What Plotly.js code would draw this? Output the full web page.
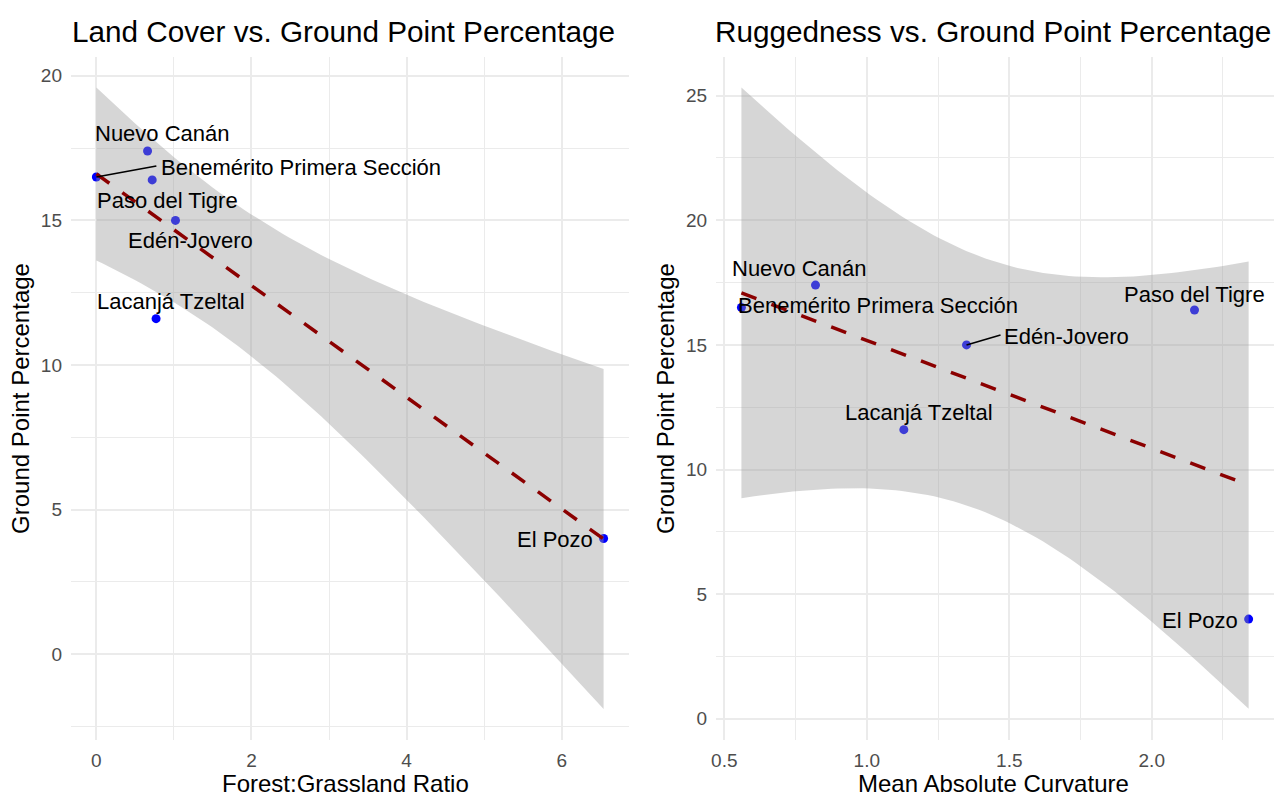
<!DOCTYPE html>
<html>
<head>
<meta charset="utf-8">
<script src="https://cdn.plot.ly/plotly-3.0.1.min.js"></script>
<style>html,body{margin:0;padding:0;background:#fff;}#chart{width:1278px;height:796px;}</style>
</head>
<body>
<div id="chart"></div>
<script>
// ---- data ----
const sites = ["Nuevo Canán", "Benemérito Primera Sección", "Paso del Tigre", "Edén-Jovero", "Lacanjá Tzeltal", "El Pozo"];
const groundPct = [17.4, 16.5, 16.4, 15.0, 11.6, 4.0];
const forestGrassRatio = [0.66, 0.0, 0.72, 1.02, 0.77, 6.54];
const meanAbsCurvature = [0.82, 0.56, 2.15, 1.35, 1.13, 2.34];
const leftTitle = "Land Cover vs. Ground Point Percentage";
const rightTitle = "Ruggedness vs. Ground Point Percentage";
const leftXLabel = "Forest:Grassland Ratio";
const rightXLabel = "Mean Absolute Curvature";
const yLabel = "Ground Point Percentage";
const T_CRIT = 2.776445; // t(0.975, df = 4) for the 95% band of a linear fit on 6 points

// ---- linear model with 95% confidence band (as geom_smooth(method = "lm")) ----
function lmBand(xs, ys, nGrid) {
  const n = xs.length;
  const mx = xs.reduce((a, b) => a + b, 0) / n;
  const my = ys.reduce((a, b) => a + b, 0) / n;
  let sxx = 0, sxy = 0;
  for (let i = 0; i < n; i++) { sxx += (xs[i] - mx) ** 2; sxy += (xs[i] - mx) * (ys[i] - my); }
  const b = sxy / sxx, a = my - b * mx;
  let ssr = 0;
  for (let i = 0; i < n; i++) ssr += (ys[i] - (a + b * xs[i])) ** 2;
  const s = Math.sqrt(ssr / (n - 2));
  const lo = Math.min(...xs), hi = Math.max(...xs);
  const gx = [], fit = [], up = [], dn = [];
  for (let k = 0; k < nGrid; k++) {
    const x = lo + (hi - lo) * k / (nGrid - 1);
    const f = a + b * x;
    const se = s * Math.sqrt(1 / n + (x - mx) ** 2 / sxx);
    gx.push(x); fit.push(f); up.push(f + T_CRIT * se); dn.push(f - T_CRIT * se);
  }
  return { gx, fit, up, dn };
}

const FONT = "Liberation Sans, Arial, Helvetica, sans-serif";
const bandFill = "rgba(153,153,153,0.4)";
const lineColor = "#8B0000";

function panelTraces(xs, xa, ya) {
  const m = lmBand(xs, groundPct, 80);
  return [
    { type: "scatter", mode: "markers", x: xs, y: groundPct, text: sites, xaxis: xa, yaxis: ya,
      marker: { color: "#0000ff", size: 9 }, hoverinfo: "text+x+y" },
    { type: "scatter", mode: "lines", x: m.gx.concat(m.gx.slice().reverse()), y: m.up.concat(m.dn.slice().reverse()),
      fill: "toself", fillcolor: bandFill, line: { width: 0 }, xaxis: xa, yaxis: ya, hoverinfo: "skip" },
    { type: "scatter", mode: "lines", x: m.gx, y: m.fit, xaxis: xa, yaxis: ya,
      line: { color: lineColor, width: 3.5, dash: "16px,16px" }, hoverinfo: "skip" }
  ];
}

const data = panelTraces(forestGrassRatio, "x", "y").concat(panelTraces(meanAbsCurvature, "x2", "y2"));

// label placement (pixel offsets from each point), mimicking the repelled labels
// seg: leader segment end (pixels, y up) from the point
const leftPlace = [
  { dx: 15, dy: -17 }, { left: true, dx: 63, dy: -10, seg: [60, 11] }, { dx: 15, dy: 21 },
  { dx: 15, dy: 20 }, { dx: 15, dy: -17 }, { right: true, dx: -9, dy: 1 }
];
const rightPlace = [
  { dx: -16, dy: -17 }, { left: true, dx: -5, dy: -2 }, { dx: 0, dy: -16 },
  { left: true, dx: 35, dy: -8, seg: [34, 10] }, { dx: 15, dy: -17 }, { right: true, dx: -9, dy: 1 }
];

function labelAnns(xs, place, xr, yr) {
  return sites.map((s, i) => {
    const p = place[i];
    return { x: xs[i], y: groundPct[i], xref: xr, yref: yr, text: s, showarrow: false,
      font: { family: FONT, size: 22, color: "#000" },
      xanchor: p.right ? "right" : (p.left ? "left" : "center"),
      yanchor: "middle", xshift: p.dx, yshift: -p.dy };
  });
}
function leaderShapes(xs, place, xr, yr) {
  const out = [];
  place.forEach((p, i) => {
    if (!p.seg) return;
    out.push({ type: "line", xref: xr, yref: yr, xsizemode: "pixel", ysizemode: "pixel",
      xanchor: xs[i], yanchor: groundPct[i], x0: 0, y0: 0, x1: p.seg[0], y1: p.seg[1],
      line: { color: "#000", width: 1.6 }, layer: "above" });
  });
  return out;
}

const grid = "#ebebeb";
function xAxis(dom, range, dtick, minorDtick, anchor, fmt) {
  return { domain: dom, range: range, anchor: anchor, tick0: 0, dtick: dtick, tickformat: fmt,
    showgrid: true, gridcolor: grid, gridwidth: 2, zeroline: false, showline: false, ticks: "",
    minor: { tick0: 0, dtick: minorDtick, showgrid: true, gridcolor: grid, gridwidth: 1 },
    tickfont: { family: FONT, size: 19, color: "#4d4d4d" }, ticklabelstandoff: 7 };
}
function yAxis(range, anchor) {
  return { domain: [0, 1], range: range, anchor: anchor, tick0: 0, dtick: 5,
    showgrid: true, gridcolor: grid, gridwidth: 2, zeroline: false, showline: false, ticks: "",
    minor: { tick0: 0, dtick: 2.5, showgrid: true, gridcolor: grid, gridwidth: 1 },
    tickfont: { family: FONT, size: 19, color: "#4d4d4d" }, ticklabelstandoff: 8,
    title: { text: yLabel, font: { family: FONT, size: 24, color: "#000" }, standoff: 4 } };
}

const titleFont = { family: FONT, size: 29.7, color: "#000" };
const axTitleFont = { family: FONT, size: 24, color: "#000" };

const layout = {
  width: 1278, height: 796,
  margin: { l: 71, r: 4, t: 57, b: 56 },
  paper_bgcolor: "#fff", plot_bgcolor: "#fff",
  showlegend: false,
  font: { family: FONT },
  xaxis: xAxis([0, 0.4638], [-0.327, 6.867], 2, 1, "y", "d"),
  yaxis: yAxis([-2.97, 20.65], "x"),
  xaxis2: xAxis([0.5362, 1], [0.471, 2.429], 0.5, 0.25, "y2", ".1f"),
  yaxis2: yAxis([-0.85, 26.55], "x2"),
  shapes: leaderShapes(forestGrassRatio, leftPlace, "x", "y")
    .concat(leaderShapes(meanAbsCurvature, rightPlace, "x2", "y2")),
  annotations: [
    { text: leftTitle, xref: "paper", yref: "paper", x: 0.0017, y: 1.038, xanchor: "left", yanchor: "middle",
      xshift: -3, showarrow: false, font: titleFont },
    { text: rightTitle, xref: "paper", yref: "paper", x: 0.5362, y: 1.038, xanchor: "left", yanchor: "middle",
      xshift: -3, showarrow: false, font: titleFont },
    { text: leftXLabel, xref: "paper", yref: "paper", x: 0.2282, y: -0.063, xanchor: "center", yanchor: "middle",
      showarrow: false, font: axTitleFont },
    { text: rightXLabel, xref: "paper", yref: "paper", x: 0.7672, y: -0.063, xanchor: "center", yanchor: "middle",
      showarrow: false, font: axTitleFont }
  ].concat(labelAnns(forestGrassRatio, leftPlace, "x", "y"))
   .concat(labelAnns(meanAbsCurvature, rightPlace, "x2", "y2"))
};

Plotly.newPlot("chart", data, layout, { staticPlot: true, displayModeBar: false });
</script>
</body>
</html>
